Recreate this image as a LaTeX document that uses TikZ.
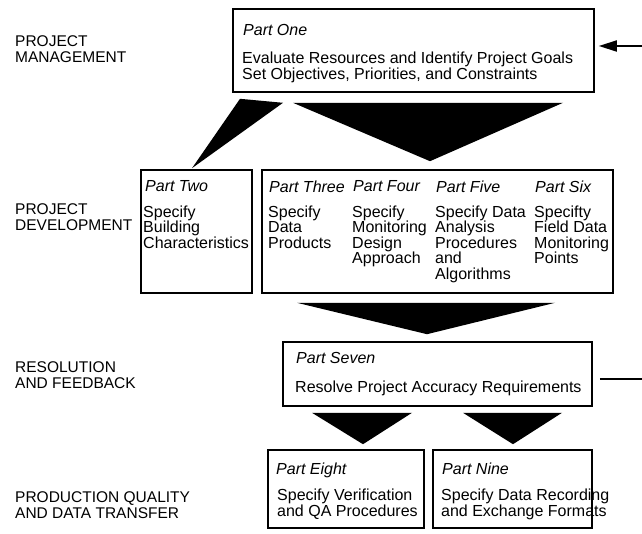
\documentclass[tikz,border=0pt]{standalone}
\usepackage{fontspec}
\setmainfont{Liberation Sans}
\usetikzlibrary{arrows.meta}
\tikzset{
  box/.style={draw, line width=1.6pt, inner sep=0pt},
  wedge/.style={fill=black},
  part/.style={anchor=north west, inner sep=0pt, font=\fontsize{16}{16}\selectfont\itshape},
  body/.style={anchor=north west, inner sep=0pt, align=left, font=\fontsize{16}{15.5}\selectfont},
  tight/.style={body, font=\fontsize{16}{12.7}\selectfont},
  level/.style={anchor=north west, inner sep=0pt, align=left, font=\fontsize{15.5}{16}\selectfont}
}
\begin{document}
\begin{tikzpicture}[x=1pt, y=-1pt]
\useasboundingbox (0,0) rectangle (642,534);
% boxes
\node[box, minimum width=361pt, minimum height=83pt] (one) at (413.5,50.5) {};
\node[box, minimum width=111pt, minimum height=123pt] (two) at (196.5,231.5) {};
\node[box, minimum width=351pt, minimum height=123pt] (dev) at (437.5,231.5) {};
\node[box, minimum width=309pt, minimum height=64pt] (seven) at (437.5,374) {};
\node[box, minimum width=156pt, minimum height=78pt] (eight) at (346,489) {};
\node[box, minimum width=159pt, minimum height=78pt] (nine) at (512.5,489) {};
% level labels
\node[level] (lvlA) at (15,35.5) {PROJECT\\MANAGEMENT};
\node[level] (lvlB) at (15,203) {PROJECT\\DEVELOPMENT};
\node[level] (lvlC) at (15,361.5) {RESOLUTION\\AND FEEDBACK};
\node[level] (lvlD) at (15,491.5) {PRODUCTION QUALITY\\AND DATA TRANSFER};
% box texts
\node[part] (oneT) at (243,24.5) {Part One};
\node[tight] (oneB) at (242,51.5) {Evaluate Resources and Identify Project Goals\\Set Objectives, Priorities, and Constraints};
\node[part] (twoT) at (145,180.5) {Part Two};
\node[body] (twoB) at (143,205.5) {Specify\\Building\\Characteristics};
\node[part] (threeT) at (269,180.5) {Part Three};
\node[body] (threeB) at (268,205.5) {Specify\\Data\\Products};
\node[part] (fourT) at (353,180.5) {Part Four};
\node[body] (fourB) at (352,205.5) {Specify\\Monitoring\\Design\\Approach};
\node[part] (fiveT) at (436,180.5) {Part Five};
\node[body] (fiveB) at (435,205.5) {Specify Data\\Analysis\\Procedures\\and\\Algorithms};
\node[part] (sixT) at (535,180.5) {Part Six};
\node[body] (sixB) at (534,205.5) {Specifty\\Field Data\\Monitoring\\Points};
\node[part] (sevenT) at (296,352.5) {Part Seven};
\node[body] (sevenB) at (295,380.5) {Resolve Project Accuracy Requirements};
\node[part] (eightT) at (276,462.5) {Part Eight};
\node[tight] (eightB) at (277,488.5) {Specify Verification\\and QA Procedures};
\node[part] (nineT) at (442,462.5) {Part Nine};
\node[tight] (nineB) at (441,488.5) {Specify Data Recording\\and Exchange Formats};
% wedges
\fill[wedge] ([xshift=-120.5pt,yshift=-10pt]one.south) -- ([xshift=149.5pt,yshift=-10pt]one.south) -- ([xshift=-7.5pt,yshift=8pt]dev.north) -- cycle;
\fill[wedge] ([xshift=-173.5pt,yshift=-6pt]one.south) -- ([xshift=-130.5pt,yshift=-10pt]one.south) -- ([xshift=-4.5pt,yshift=1pt]two.north) -- cycle;
\fill[wedge] ([xshift=-140.5pt,yshift=-9pt]dev.south) -- ([xshift=117.5pt,yshift=-9pt]dev.south) -- ([xshift=-10.5pt,yshift=7pt]seven.north) -- cycle;
\fill[wedge] ([xshift=-125.5pt,yshift=-6pt]seven.south) -- ([xshift=-25.5pt,yshift=-6pt]seven.south) -- ([xshift=17pt,yshift=5pt]eight.north) -- cycle;
\fill[wedge] ([xshift=25.5pt,yshift=-6pt]seven.south) -- ([xshift=124.5pt,yshift=-6pt]seven.south) -- ([xshift=0.5pt,yshift=5pt]nine.north) -- cycle;
% feedback
\coordinate (fbin) at (642,46);
\coordinate (fbout) at (642,379);
\draw[line width=1.8pt, -{Triangle[length=18pt,width=11pt]}, shorten >=4pt] (fbin) -- (fbin -| one.east);
\draw[line width=1.8pt, shorten <=7pt] (seven.east |- fbout) -- (fbout);
\end{tikzpicture}
\end{document}
